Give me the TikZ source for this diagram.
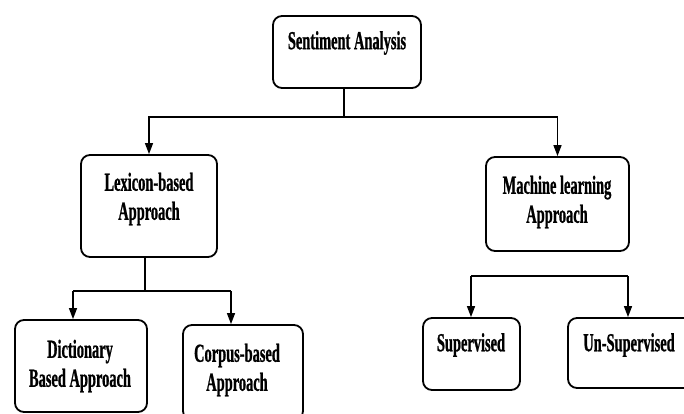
\documentclass[tikz,border=0pt]{standalone}
\usepackage{fontspec}
\newfontfamily\lblfont[FakeStretch=0.555,FakeBold=0.8]{Liberation Serif}
\usetikzlibrary{arrows.meta}
\begin{document}
\begin{tikzpicture}[x=1pt,y=-1pt,
  box/.style={draw=black, line width=1.8pt, rounded corners=9pt, inner sep=0pt},
  lbl/.style={font=\lblfont\bfseries\fontsize{26}{29}\selectfont, align=center, inner sep=0pt},
  conn/.style={draw=black, line width=1.3pt},
  arr/.style={conn, -{Triangle[length=11pt,width=8pt]}}]
\useasboundingbox (0,0) rectangle (684,414);
% boxes
\node[box, minimum width=148pt, minimum height=72pt] (sa) at (347,52) {};
\node[box, minimum width=136pt, minimum height=102pt] (lex) at (149,206) {};
\node[box, minimum width=143pt, minimum height=94pt] (ml) at (557.5,204) {};
\node[box, minimum width=132pt, minimum height=92pt] (dict) at (81,366) {};
\node[box, minimum width=120pt, minimum height=95pt] (corp) at (243,372.5) {};
\node[box, minimum width=97pt, minimum height=72pt] (sup) at (471.5,354) {};
\node[box, minimum width=132pt, minimum height=70pt] (unsup) at (634,353) {};
% labels
\node[lbl] (saT) at (347,43) {Sentiment Analysis};
\node[lbl] (lexT) at (149,199) {Lexicon-based\\Approach};
\node[lbl] (mlT) at (557,202) {Machine learning\\Approach};
\node[lbl] (dictT) at (80,366) {Dictionary\\Based Approach};
\node[lbl] (corpT) at (237,370) {Corpus-based\\Approach};
\node[lbl] (supT) at (471,345) {Supervised};
\node[lbl] (unsupT) at (629,345) {Un-Supervised};
% top level connectors
\coordinate (j1) at (344,117);
\draw[conn] (j1 |- sa.south) -- (j1);
\draw[arr] (j1) -| (lex.north);
\draw[arr] (j1) -| (ml.north);
% lexicon subtree
\coordinate (j2) at (145,291);
\coordinate (dA) at (73,291);
\coordinate (cA) at (231,291);
\draw[conn] (j2 |- lex.south) -- (j2);
\draw[conn] (dA) -- (cA);
\draw[arr] (dA) -- (dA |- dict.north);
\draw[arr] (cA) -- (cA |- corp.north);
% machine learning subtree
\coordinate (sA) at (471,276);
\coordinate (uA) at (628,276);
\draw[conn] (sA) -- (uA);
\draw[arr] (sA) -- (sA |- sup.north);
\draw[arr] (uA) -- (uA |- unsup.north);
\end{tikzpicture}
\end{document}
